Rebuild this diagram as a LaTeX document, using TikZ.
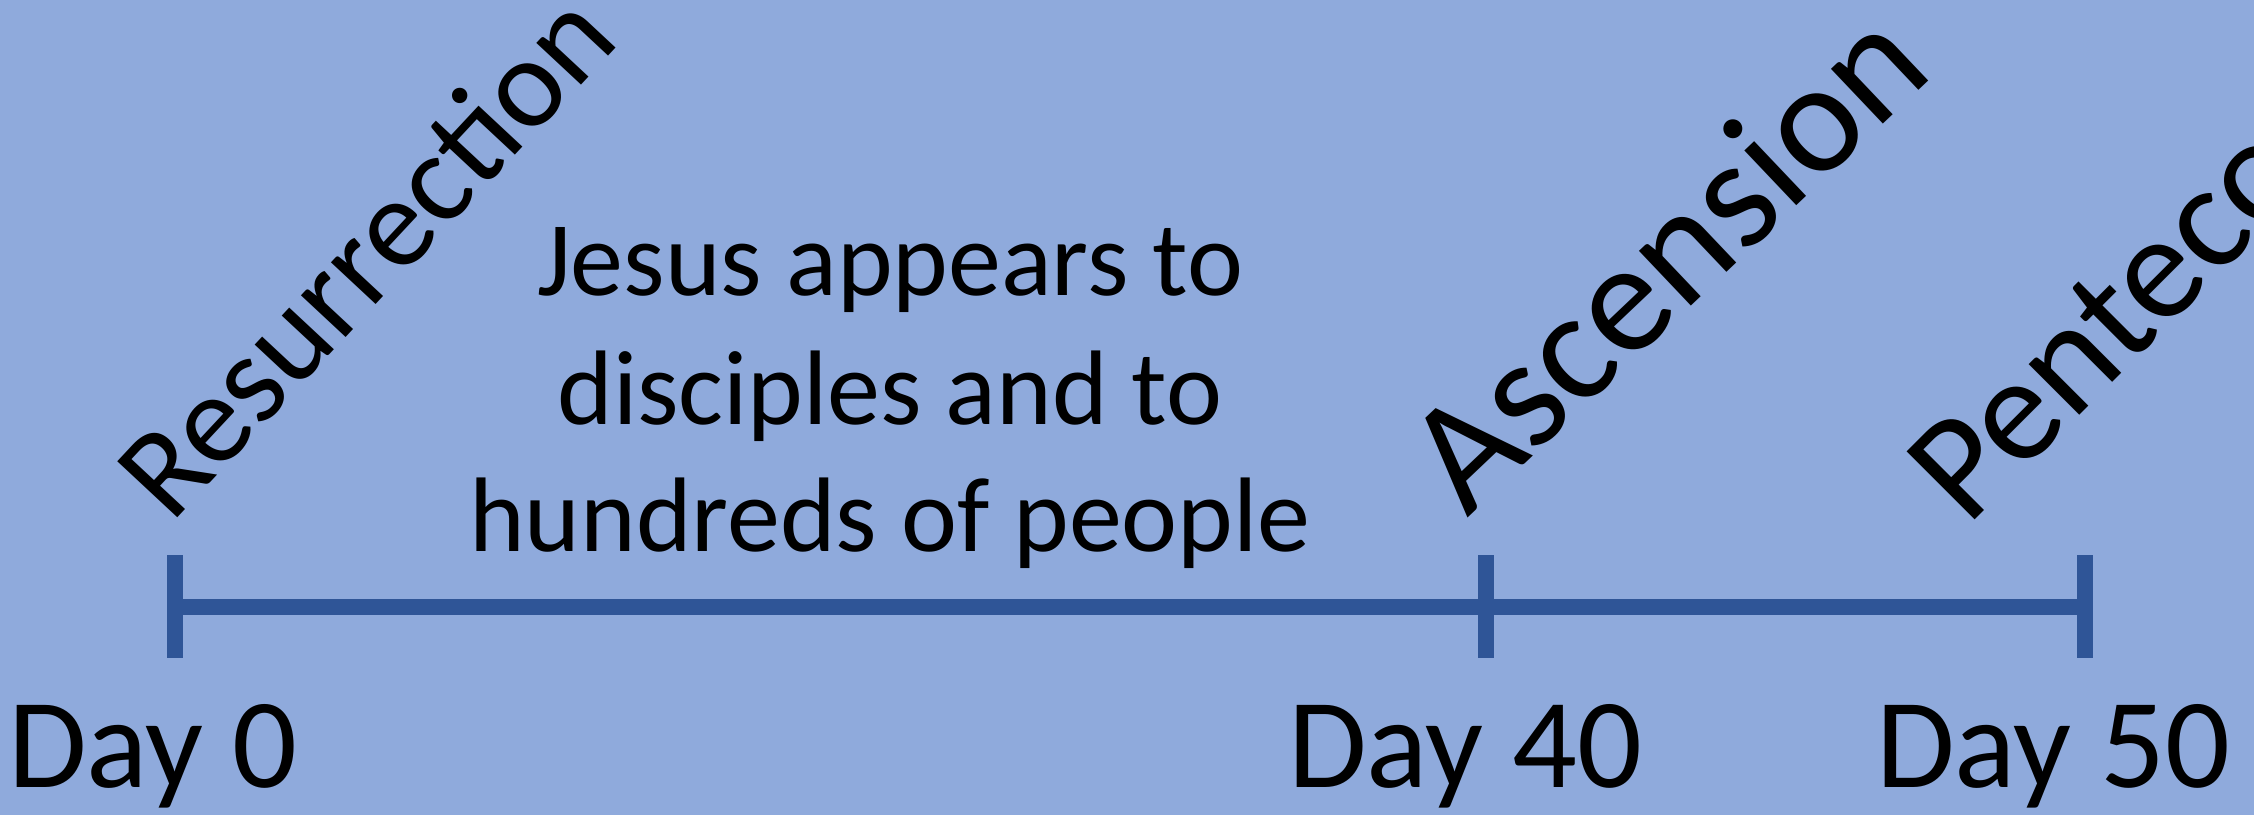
\documentclass[tikz,border=0pt]{standalone}
\usepackage{fontspec}
\setmainfont{Carlito}
\definecolor{bgblue}{HTML}{8FAADC}
\definecolor{lineblue}{HTML}{2F5597}
\begin{document}
\begin{tikzpicture}[x=1pt,y=-1pt,
  axis/.style={draw=lineblue,line width=16pt,line cap=butt},
  daylabel/.style={inner sep=0pt,anchor=base west,font=\fontsize{128}{150}\selectfont},
  bodytext/.style={inner sep=0pt,anchor=base,font=\fontsize{106}{129}\selectfont},
  eventlabel/.style={inner sep=0pt,anchor=base west}]
\path[use as bounding box,fill=bgblue] (0,0) rectangle (2254,815);
\clip (0,0) rectangle (2254,815);
% timeline coordinates
\coordinate (t0) at (175,607);
\coordinate (t40) at (1486,607);
\coordinate (t50) at (2085,607);
\coordinate (t0a) at (175,555);   \coordinate (t0b) at (175,658);
\coordinate (t40a) at (1486,555); \coordinate (t40b) at (1486,658);
\coordinate (t50a) at (2085,555); \coordinate (t50b) at (2085,658);
\draw[axis] (t0) -- (t50);
\draw[axis] (t0a) -- (t0b);
\draw[axis] (t40a) -- (t40b);
\draw[axis] (t50a) -- (t50b);
% day labels
\node[daylabel] (d0) at (8,787) {Day 0};
\node[daylabel] (d40) at (1288,787) {Day 40};
\node[daylabel] (d50) at (1876,787) {Day 50};
% middle text
\node[bodytext] (j1) at (890,295) {Jesus appears to};
\node[bodytext] (j2) at (890,424) {disciples and to};
\node[bodytext] (j3) at (890,551) {hundreds of people};
% rotated event labels
\node[eventlabel,rotate=47,font=\fontsize{128}{150}\selectfont] (res) at (171,525) {Resurrection};
\node[eventlabel,rotate=43.5,font=\fontsize{158}{180}\selectfont] (asc) at (1467,519) {Ascension};
\node[eventlabel,rotate=45,font=\fontsize{150}{180}\selectfont] (pen) at (1967,528) {Pentecost};
\end{tikzpicture}
\end{document}
